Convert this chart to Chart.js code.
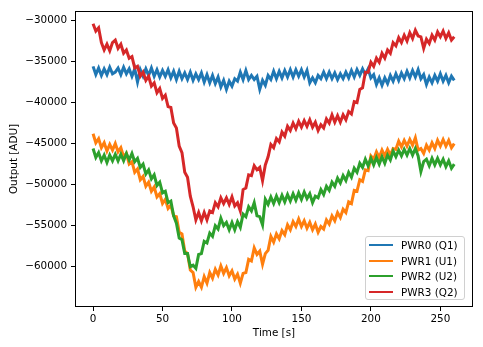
<!DOCTYPE html>
<html>
<head>
<meta charset="utf-8">
<script src="https://cdn.jsdelivr.net/npm/chart.js@4/dist/chart.umd.min.js"></script>
<style>
  html, body { margin: 0; padding: 0; background: #fff; }
  #wrap { position: relative; width: 483px; height: 347px; }
  canvas { display: block; }
  #legend {
    position: absolute; left: 365px; top: 236px; width: 100px; height: 64px;
    border: 1px solid #d0d0d0; border-radius: 3px; background: rgba(255,255,255,0.8);
    font-family: "DejaVu Sans", sans-serif; font-size: 10.4px; color: #000;
    box-sizing: border-box;
  }
  .row { position: absolute; left: 0; height: 14px; line-height: 14px; white-space: nowrap; }
  .sw { position: absolute; left: 3px; top: 6px; width: 24px; height: 2px; }
  .lb { position: absolute; left: 35px; top: 0; }
</style>
</head>
<body>
<div id="wrap">
<canvas id="c" width="483" height="347"></canvas>
<div id="legend"></div>
</div>
<script>
// ---- data ----
const times = [0,2,4,6,8,10,12,14,16,18,20,22,24,26,28,30,32,34,36,38,40,42,44,46,48,50,52,54,56,58,
  60,62,64,66,68,70,72,74,76,78,80,82,84,86,88,90,92,94,96,98,100,102,104,106,108,110,112,114,116,118,
  120,122,124,126,128,130,132,134,136,138,140,142,144,146,148,150,152,154,156,158,160,162,164,166,168,170,172,174,176,178,
  180,182,184,186,188,190,192,194,196,198,200,202,204,206,208,210,212,214,216,218,220,222,224,226,228,230,232,234,236,238,
  240,242,244,246,248,250,252,254,256,258,260];

const seriesNames = ["PWR0 (Q1)", "PWR1 (U1)", "PWR2 (U2)", "PWR3 (Q2)"];
const seriesColors = ["#1f77b4", "#ff7f0e", "#2ca02c", "#d62728"];

const pwr0 = [
  -35600,-36600,-35800,-36700,-35900,-36600,-35700,-36500,-36300,-35800,
  -36600,-35700,-36500,-35900,-36800,-35900,-37500,-36000,-36800,-35900,
  -36700,-35800,-36800,-36000,-36900,-36100,-36800,-36000,-37000,-36200,
  -37200,-36200,-37100,-36400,-37200,-36300,-37300,-36500,-37200,-36400,
  -37500,-36600,-37600,-36700,-37700,-36900,-38100,-37300,-38400,-37400,
  -38000,-37100,-37400,-36300,-37200,-36100,-37200,-36700,-37200,-36800,
  -38400,-37300,-37900,-36700,-37200,-36200,-37100,-36200,-37000,-36100,
  -36900,-36000,-36900,-36000,-36800,-36000,-36900,-36100,-37600,-37000,
  -37600,-36700,-37100,-36300,-37100,-36300,-37100,-36400,-37200,-36500,
  -37100,-36300,-37000,-36100,-36900,-36000,-36700,-35900,-36600,-35900,
  -37000,-36600,-37800,-37000,-37900,-37000,-37700,-36700,-37400,-36500,
  -37300,-36400,-37100,-36200,-37000,-36100,-36900,-36000,-37100,-36600,
  -37800,-36900,-37600,-36700,-37400,-36500,-37400,-36700,-37600,-36800,
  -37300];
const pwr1 = [
  -43800,-44900,-44400,-45500,-44900,-45900,-45100,-45800,-45000,-46000,
  -45500,-46600,-46200,-47500,-47200,-48500,-48100,-49400,-49000,-50200,
  -49700,-50800,-50300,-51500,-51100,-52300,-51800,-52900,-52500,-53800,
  -53900,-55800,-56000,-58100,-58400,-60400,-60700,-62500,-61800,-62500,
  -61200,-62000,-60700,-61400,-60300,-61000,-59900,-60800,-60100,-61100,
  -60500,-61500,-60900,-62000,-60800,-60700,-59100,-59300,-57700,-58500,
  -58100,-59700,-58400,-58000,-56300,-57000,-56000,-56600,-55600,-56100,
  -54900,-55500,-54500,-55100,-54200,-55100,-54400,-55300,-54600,-55500,
  -54800,-55800,-55100,-55400,-54300,-54800,-53800,-54400,-53400,-54000,
  -53000,-53400,-52100,-52300,-50700,-50800,-49400,-49600,-48200,-48300,
  -46500,-46900,-46000,-46700,-45800,-46500,-45700,-46400,-45600,-45700,
  -44700,-45400,-44600,-45300,-44500,-45200,-44300,-45800,-45600,-46200,
  -45200,-45800,-44900,-45600,-44600,-45300,-44500,-45300,-44600,-45500,
  -45000];
const pwr2 = [
  -45600,-46700,-46100,-47100,-46400,-47300,-46400,-47100,-46300,-47100,
  -46300,-47100,-46200,-47000,-46200,-47200,-46800,-47900,-47500,-48700,
  -48200,-49300,-48800,-50100,-49700,-51000,-50800,-52200,-52000,-53800,
  -54700,-56500,-56700,-58400,-58400,-60000,-59800,-60200,-58500,-58400,
  -56900,-57100,-55900,-56300,-55000,-55400,-54100,-55000,-54600,-55500,
  -54600,-55500,-54500,-55200,-53600,-53900,-52700,-53200,-52200,-53800,
  -53900,-54900,-51800,-52400,-51500,-52300,-51400,-52200,-51300,-52100,
  -51200,-52000,-51100,-51900,-51000,-51800,-50900,-51700,-51100,-52200,
  -51400,-51600,-50600,-51200,-50200,-50700,-49700,-50200,-49200,-49800,
  -48900,-49500,-48500,-49100,-48000,-48500,-47400,-47900,-46900,-47700,
  -46800,-47600,-46700,-47500,-46600,-47400,-46400,-47000,-45900,-46600,
  -45800,-46500,-45700,-46400,-45600,-46400,-45600,-46500,-48400,-47200,
  -46900,-47700,-46800,-47600,-46800,-47600,-46900,-47800,-47100,-48000,
  -47500];
const pwr3 = [
  -30400,-31300,-30900,-32700,-33600,-32900,-33700,-32700,-32400,-33400,
  -32900,-34000,-33600,-34600,-34400,-35800,-35600,-36800,-36300,-37300,
  -36800,-38000,-37600,-38800,-38300,-39500,-39100,-40500,-40600,-42500,
  -43100,-45300,-46100,-48500,-49100,-51400,-52700,-54300,-53400,-54400,
  -53400,-54300,-53200,-53400,-52200,-52700,-51600,-52300,-51600,-52400,
  -51500,-52600,-52200,-53200,-50600,-50400,-48800,-48900,-47700,-48200,
  -47900,-49500,-47600,-46600,-45100,-45500,-44400,-44800,-43600,-44100,
  -42900,-43400,-42500,-43200,-42300,-43000,-42200,-42900,-42100,-43000,
  -42400,-43400,-42700,-43100,-42000,-42500,-41500,-42400,-41600,-42400,
  -41500,-42100,-41100,-41400,-39900,-40000,-38400,-38200,-36300,-36300,
  -35100,-35600,-34600,-35100,-34000,-34600,-33600,-34000,-32700,-33100,
  -32100,-32700,-31800,-32500,-31500,-32200,-31200,-31900,-32000,-33400,
  -32300,-32800,-31800,-32400,-31400,-32000,-31300,-32200,-31500,-32400,
  -32000];

const xTicks = [0, 50, 100, 150, 200, 250];
const yTicks = [-60000, -55000, -50000, -45000, -40000, -35000, -30000];
const xLabel = "Time [s]";
const yLabel = "Output [ADU]";

// ---- chart ----
const allSeries = [pwr0, pwr1, pwr2, pwr3];
const FONT = { family: "'DejaVu Sans', sans-serif", size: 10.4 };

const datasets = allSeries.map((s, k) => ({
  label: seriesNames[k],
  data: times.map((t, i) => ({ x: t, y: s[i] })),
  borderColor: seriesColors[k],
  backgroundColor: seriesColors[k],
  borderWidth: 3,
  borderJoinStyle: 'miter',
  pointRadius: 0,
  tension: 0,
  fill: false,
  order: allSeries.length - 1 - k
}));

const frame = {
  id: 'frame',
  afterDatasetsDraw(chart) {
    const a = chart.chartArea, ctx = chart.ctx;
    ctx.save();
    ctx.strokeStyle = '#000';
    ctx.lineWidth = 1;
    ctx.strokeRect(Math.round(a.left) + 0.5, Math.round(a.top) + 0.5,
                   Math.round(a.right - a.left) - 1, Math.round(a.bottom - a.top) - 1);
    ctx.restore();
  }
};

const fmt = v => String(v).replace('-', '\u2212');

new Chart(document.getElementById('c'), {
  type: 'line',
  data: { datasets },
  options: {
    responsive: false,
    animation: false,
    devicePixelRatio: 1,
    layout: { padding: { left: 0, top: 11, right: 10, bottom: 0 } },
    plugins: { legend: { display: false }, tooltip: { enabled: false } },
    scales: {
      x: {
        type: 'linear',
        min: -13, max: 273.5,
        afterBuildTicks: sc => { sc.ticks = xTicks.map(v => ({ value: v })); },
        afterFit: sc => { sc.height = 40; },
        ticks: { font: FONT, color: '#000', padding: 2, maxRotation: 0, callback: v => fmt(v) },
        grid: { drawOnChartArea: false, drawTicks: true, tickLength: 4, color: '#000', lineWidth: 1 },
        border: { display: false },
        title: { display: true, text: xLabel, font: FONT, color: '#000', padding: { top: 0, bottom: 7 } }
      },
      y: {
        type: 'linear',
        min: -64900, max: -28855,
        afterBuildTicks: sc => { sc.ticks = yTicks.map(v => ({ value: v })); },
        afterFit: sc => { sc.width = 75; },
        ticks: { font: FONT, color: '#000', padding: 4, callback: v => fmt(v) },
        grid: { drawOnChartArea: false, drawTicks: true, tickLength: 4, color: '#000', lineWidth: 1 },
        border: { display: false },
        title: { display: true, text: yLabel, font: FONT, color: '#000', padding: { top: 8, bottom: 0 } }
      }
    }
  },
  plugins: [frame]
});

// legend (HTML overlay)
const lg = document.getElementById('legend');
seriesNames.forEach((n, k) => {
  const r = document.createElement('div');
  r.className = 'row';
  r.style.top = (1 + k * 15.7) + 'px';
  r.style.width = '100%';
  r.innerHTML = '<span class="sw" style="background:' + seriesColors[k] + '"></span><span class="lb">' + n + '</span>';
  lg.appendChild(r);
});
</script>
</body>
</html>
